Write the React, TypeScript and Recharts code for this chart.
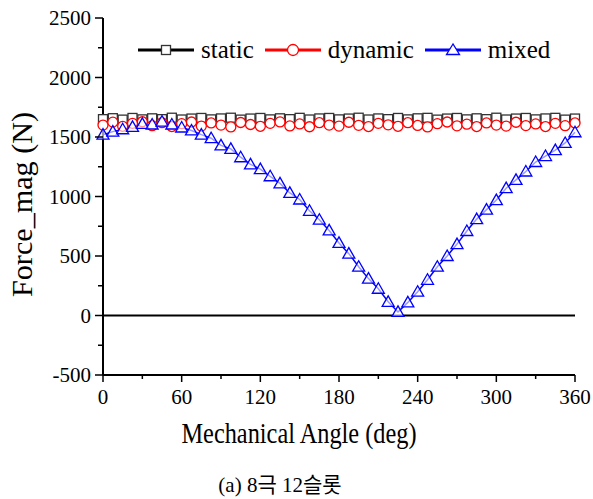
import React from 'react';
import { LineChart, Line, XAxis, YAxis, ReferenceLine, Label } from 'recharts';

const angles = [
  0, 7.5, 15, 22.5, 30, 37.5, 45, 52.5, 60, 67.5, 75, 82.5, 90, 97.5, 105, 112.5, 120,
  127.5, 135, 142.5, 150, 157.5, 165, 172.5, 180, 187.5, 195, 202.5, 210, 217.5, 225,
  232.5, 240, 247.5, 255, 262.5, 270, 277.5, 285, 292.5, 300, 307.5, 315, 322.5, 330,
  337.5, 345, 352.5, 360,
];

const staticForce = [
  1650, 1658, 1646, 1660, 1648, 1657, 1650, 1662, 1647, 1655, 1660, 1648, 1656, 1662, 1646, 1655, 1660,
  1648, 1657, 1650, 1661, 1647, 1656, 1660, 1648, 1655, 1662, 1647, 1656, 1650, 1660,
  1648, 1657, 1661, 1646, 1655, 1660, 1648, 1657, 1650, 1662, 1647, 1655, 1660, 1648,
  1656, 1661, 1646, 1655,
];

const dynamicForce = [
  1600, 1625, 1590, 1615, 1628, 1595, 1620, 1588, 1612, 1626, 1592, 1618, 1600, 1585, 1622, 1605, 1590,
  1615, 1627, 1593, 1610, 1586, 1620, 1600, 1592, 1624, 1598, 1588, 1615, 1602, 1590,
  1620, 1597, 1585, 1612, 1626, 1594, 1608, 1588, 1618, 1600, 1592, 1624, 1596, 1610,
  1588, 1615, 1595, 1618,
];

const mixedForce = [
  1520, 1545, 1565, 1585, 1610, 1605, 1630, 1605, 1580, 1555, 1520, 1490, 1430, 1400, 1330, 1270, 1230,
  1170, 1110, 1030, 975, 880, 805, 715, 610, 520, 410, 310, 225, 115, 30,
  110, 200, 300, 410, 500, 600, 710, 810, 890, 970, 1070, 1140, 1210, 1290,
  1340, 1390, 1450, 1540,
];

const xTicks = [0, 30, 60, 90, 120, 150, 180, 210, 240, 270, 300, 330, 360];
const yTicks = [-500, -250, 0, 250, 500, 750, 1000, 1250, 1500, 1750, 2000, 2250, 2500];

const seriesInfo = [
  { key: 'static', name: 'static', color: '#000000' },
  { key: 'dynamic', name: 'dynamic', color: '#ff0000' },
  { key: 'mixed', name: 'mixed', color: '#0000ff' },
];

const data = angles.map((a, i) => ({
  angle: a,
  static: staticForce[i],
  dynamic: dynamicForce[i],
  mixed: mixedForce[i],
}));

const FONT = '"Liberation Serif", "Times New Roman", serif';

const BottomTick = ({ x, y, payload }: any) => {
  const major = payload.value % 60 === 0;
  return (
    <g>
      <line x1={x} y1={y} x2={x} y2={y + (major ? 7 : 4)} stroke="#000" strokeWidth={1.5} />
      {major && (
        <text x={x} y={y + 29} textAnchor="middle" fontSize={21} fontFamily={FONT} fill="#000">
          {payload.value}
        </text>
      )}
    </g>
  );
};

const TopTick = ({ x, y, payload }: any) => {
  const major = payload.value % 60 === 0;
  return <line x1={x} y1={y} x2={x} y2={y + (major ? 6 : 3)} stroke="#000" strokeWidth={1.5} />;
};

const LeftTick = ({ x, y, payload }: any) => {
  const major = payload.value % 500 === 0;
  return (
    <g>
      <line x1={x} y1={y} x2={x - (major ? 8 : 5)} y2={y} stroke="#000" strokeWidth={1.5} />
      {major && (
        <text x={x - 12} y={y + 7} textAnchor="end" fontSize={21} fontFamily={FONT} fill="#000">
          {payload.value}
        </text>
      )}
    </g>
  );
};

const RightTick = ({ x, y, payload }: any) => {
  const major = payload.value % 500 === 0;
  return <line x1={x} y1={y} x2={x - (major ? 6 : 3)} y2={y} stroke="#000" strokeWidth={1.5} />;
};

const SquareDot = ({ cx, cy }: any) =>
  cx == null ? null : (
    <rect x={cx - 4.5} y={cy - 4.5} width={9} height={9} fill="#fff" stroke="#333" strokeWidth={1.3} />
  );

const CircleDot = ({ cx, cy }: any) =>
  cx == null ? null : <circle cx={cx} cy={cy} r={5} fill="#fff" stroke="#ff0000" strokeWidth={1.3} />;

const TriangleDot = ({ cx, cy }: any) =>
  cx == null ? null : (
    <polygon
      points={`${cx},${cy - 6} ${cx - 6},${cy + 4.5} ${cx + 6},${cy + 4.5}`}
      fill="#fff"
      fillOpacity={0.6}
      stroke="#0000ff"
      strokeWidth={1.3}
    />
  );

const legendIcon = (key: string, color: string) => (
  <svg width={56} height={20}>
    <line x1={0} y1={10} x2={56} y2={10} stroke={color} strokeWidth={3} />
    {key === 'static' && <rect x={23.5} y={5.5} width={9} height={9} fill="#fff" stroke="#333" strokeWidth={1.3} />}
    {key === 'dynamic' && <circle cx={28} cy={10} r={5.5} fill="#fff" stroke={color} strokeWidth={1.3} />}
    {key === 'mixed' && <polygon points="28,4 21.5,14.5 34.5,14.5" fill="#fff" stroke={color} strokeWidth={1.3} />}
  </svg>
);

const XTitle = ({ viewBox }: any) => (
  <text
    x={viewBox.x + 196}
    y={viewBox.y + 68}
    textAnchor="middle"
    fontSize={29}
    fontFamily={FONT}
    textLength={235}
    lengthAdjust="spacingAndGlyphs"
    fill="#000"
  >
    Mechanical Angle (deg)
  </text>
);

const YTitle = ({ viewBox }: any) => {
  const cx = 32;
  const cy = viewBox.y + viewBox.height / 2 + 8;
  return (
    <text
      x={cx}
      y={cy}
      transform={`rotate(-90, ${cx}, ${cy})`}
      textAnchor="middle"
      fontSize={29}
      fontFamily={FONT}
      textLength={185}
      lengthAdjust="spacingAndGlyphs"
      fill="#000"
    >
      Force_mag (N)
    </text>
  );
};

export default function App() {
  return (
    <div style={{ position: 'absolute', left: 0, top: 0, width: 593, height: 499, background: '#fff', overflow: 'hidden' }}>
      <LineChart
        width={593}
        height={460}
        data={data}
        margin={{ top: 18, right: 18, left: 0, bottom: 0 }}
      >
        <XAxis
          dataKey="angle"
          type="number"
          domain={[0, 360]}
          ticks={xTicks}
          height={85}
          tickSize={0}
          tickMargin={0}
          tickLine={false}
          tick={<BottomTick />}
          axisLine={{ stroke: '#000', strokeWidth: 2 }}
          interval={0}
        >
          <Label content={<XTitle />} />
        </XAxis>
        <XAxis
          xAxisId="top"
          orientation="top"
          type="number"
          domain={[0, 360]}
          ticks={xTicks}
          height={0}
          tickSize={0}
          tickMargin={0}
          tickLine={false}
          tick={<TopTick />}
          axisLine={{ stroke: '#000', strokeWidth: 2 }}
          interval={0}
        />
        <YAxis
          type="number"
          domain={[-500, 2500]}
          ticks={yTicks}
          width={103}
          tickSize={0}
          tickMargin={0}
          tickLine={false}
          tick={<LeftTick />}
          axisLine={{ stroke: '#000', strokeWidth: 2 }}
          interval={0}
        >
          <Label content={<YTitle />} />
        </YAxis>
        <YAxis
          yAxisId="right"
          orientation="right"
          type="number"
          domain={[-500, 2500]}
          ticks={yTicks}
          width={0}
          tickSize={0}
          tickMargin={0}
          tickLine={false}
          tick={<RightTick />}
          axisLine={{ stroke: '#000', strokeWidth: 2 }}
          interval={0}
        />
        <ReferenceLine y={0} stroke="#000" strokeWidth={2} />
        <Line
          dataKey="static"
          name="static"
          stroke="#000"
          strokeWidth={1.5}
          dot={<SquareDot />}
          activeDot={false}
          isAnimationActive={false}
        />
        <Line
          dataKey="dynamic"
          name="dynamic"
          stroke="#ff0000"
          strokeWidth={1.5}
          dot={<CircleDot />}
          activeDot={false}
          isAnimationActive={false}
        />
        <Line
          dataKey="mixed"
          name="mixed"
          stroke="#0000ff"
          strokeWidth={1.5}
          dot={<TriangleDot />}
          activeDot={false}
          isAnimationActive={false}
        />
      </LineChart>
      {/* legend sits inside the plot frame, like the original */}
      <div
        style={{
          position: 'absolute',
          top: 37,
          left: 138,
          display: 'flex',
          alignItems: 'center',
          fontFamily: FONT,
          fontSize: 25,
          color: '#000',
        }}
      >
        {seriesInfo.map((s) => (
          <div key={s.key} style={{ display: 'flex', alignItems: 'center', marginRight: 11 }}>
            {legendIcon(s.key, s.color)}
            <span style={{ marginLeft: 7, lineHeight: '26px' }}>{s.name}</span>
          </div>
        ))}
      </div>
      <div
        style={{
          position: 'absolute',
          left: 0,
          width: 560,
          top: 474,
          lineHeight: '22px',
          textAlign: 'center',
          fontFamily: '"Liberation Serif", "Noto Sans CJK KR", serif',
          fontSize: 21,
          color: '#000',
        }}
      >
        (a) 8극 12슬롯
      </div>
    </div>
  );
}
